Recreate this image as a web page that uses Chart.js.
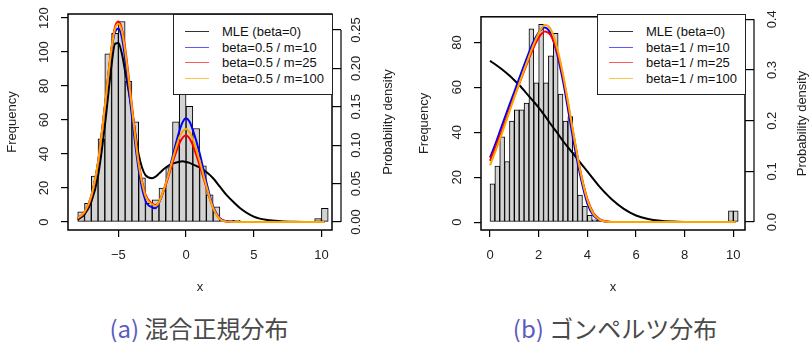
<!DOCTYPE html>
<html><head><meta charset="utf-8">
<script src="https://cdn.jsdelivr.net/npm/chart.js@4.4.1/dist/chart.umd.min.js"></script>
<style>
html,body{margin:0;padding:0;background:#fff;}
#wrap{position:relative;width:810px;height:342px;overflow:hidden;background:#fff;font-family:'Liberation Sans',Arial,sans-serif;}
.pane{position:absolute;top:0;width:405px;height:300px;}
.legend{position:absolute;border:1px solid #222;background:#fff;box-sizing:border-box;font-size:13px;color:#111;}
.legend .row{position:absolute;left:0;height:16px;line-height:16px;white-space:nowrap;}
.legend .sw{position:absolute;top:7px;height:0;border-top:1.5px solid;}
.legend .tx{position:absolute;top:0;}
.caption{position:absolute;top:315px;line-height:25px;font-family:'Noto Sans CJK JP',sans-serif;font-weight:400;font-size:24px;color:#4a4a4a;white-space:nowrap;transform:translateX(-50%);}
.caption .lab{color:#5a5abf;}
</style></head>
<body>
<div id="wrap">
  <div class="pane" style="left:0"><canvas id="ca" width="405" height="300"></canvas></div>
  <div class="pane" style="left:405px"><canvas id="cb" width="405" height="300"></canvas></div>
  <div class="legend" id="legA" style="left:173px;top:14px;width:160px;height:81px"></div>
  <div class="legend" id="legB" style="left:597px;top:14px;width:149px;height:81px"></div>
  <div class="caption" style="left:199px"><span class="lab">(a)</span> 混合正規分布</div>
  <div class="caption" style="left:615px"><span class="lab">(b)</span> ゴンペルツ分布</div>
</div>
<script>
// ---------- Panel (a): mixture of normals ----------
const binMidsA = [-7.75,-7.25,-6.75,-6.25,-5.75,-5.25,-4.75,-4.25,-3.75,-3.25,-2.75,-2.25,-1.75,-1.25,-0.75,-0.25,0.25,0.75,1.25,1.75,2.25,2.75,3.25,3.75,9.75,10.25];
const countsA  = [6,11,27,49,99,111,118,83,59,26,11,13,20,32,59,82,68,55,33,16,9,1,1,1,2,8];
const xCurveA  = [-8,-7.5,-7,-6.5,-6,-5.5,-5.25,-5,-4.75,-4.5,-4,-3.5,-3,-2.5,-2.25,-2,-1.5,-1,-0.5,-0.25,0,0.25,0.5,1,1.5,2,2.5,3,3.5,4,5,6,7,8,9,10.2];
const mleA     = [0.003,0.010,0.026,0.060,0.125,0.205,0.232,0.233,0.220,0.196,0.146,0.088,0.061,0.057,0.059,0.063,0.071,0.076,0.0785,0.079,0.078,0.077,0.075,0.071,0.065,0.057,0.046,0.035,0.026,0.018,0.007,0.0026,0.001,0.0003,0.0001,0];
const blueA    = [0.005,0.013,0.034,0.078,0.150,0.225,0.247,0.252,0.241,0.213,0.138,0.068,0.028,0.019,0.018,0.025,0.050,0.085,0.118,0.130,0.135,0.131,0.120,0.090,0.052,0.020,0.005,0.001,0.0002,0,0,0,0,0,0,0];
const redA     = [0.005,0.012,0.032,0.077,0.150,0.228,0.254,0.261,0.252,0.227,0.152,0.078,0.036,0.024,0.022,0.026,0.048,0.077,0.102,0.110,0.113,0.109,0.100,0.074,0.045,0.018,0.004,0.0005,0,0,0,0,0,0,0,0];
const orangeA  = [0.005,0.013,0.034,0.078,0.150,0.227,0.251,0.258,0.249,0.223,0.149,0.076,0.034,0.023,0.021,0.026,0.050,0.081,0.110,0.118,0.121,0.117,0.108,0.080,0.047,0.018,0.004,0.0005,0,0,0,0,0,0,0,0];
const xTicksA  = [-5,0,5,10];
const yTicksA  = [0,20,40,60,80,100,120];
const y2TicksA = [0,0.05,0.10,0.15,0.20,0.25];
const legendA  = ['MLE (beta=0)','beta=0.5 / m=10','beta=0.5 / m=25','beta=0.5 / m=100'];

// ---------- Panel (b): Gompertz ----------
const binMidsB = [0.1,0.3,0.5,0.7,0.9,1.1,1.3,1.5,1.7,1.9,2.1,2.3,2.5,2.7,2.9,3.1,3.3,3.5,3.7,3.9,4.1,4.3,4.5,9.9,10.1];
const countsB  = [17,25,38,27,45,50,50,53,86,62,88,62,74,84,57,45,47,31,12,7,3,1,1,5,5];
const xCurveB  = [0,0.25,0.5,0.75,1,1.25,1.5,1.75,2,2.25,2.5,2.75,3,3.25,3.5,3.75,4,4.25,4.5,4.75,5,5.5,6,6.5,7,7.5,8,9,10.1];
const mleB     = [0.318,0.310,0.301,0.291,0.280,0.268,0.254,0.240,0.226,0.210,0.193,0.177,0.160,0.145,0.130,0.115,0.100,0.085,0.070,0.057,0.045,0.026,0.013,0.006,0.0025,0.001,0.0004,0.0001,0];
const blueB    = [0.127,0.158,0.192,0.225,0.257,0.290,0.322,0.352,0.374,0.384,0.371,0.333,0.278,0.210,0.142,0.083,0.037,0.013,0.004,0.001,0,0,0,0,0,0,0,0,0];
const redB     = [0.121,0.150,0.182,0.215,0.248,0.279,0.310,0.340,0.364,0.376,0.368,0.338,0.288,0.222,0.155,0.093,0.046,0.018,0.006,0.0015,0,0,0,0,0,0,0,0,0];
const orangeB  = [0.112,0.143,0.176,0.211,0.246,0.280,0.313,0.345,0.372,0.389,0.380,0.345,0.292,0.225,0.155,0.092,0.044,0.016,0.005,0.001,0,0,0,0,0,0,0,0,0];
const xTicksB  = [0,2,4,6,8,10];
const yTicksB  = [0,20,40,60,80];
const y2TicksB = [0,0.1,0.2,0.3,0.4];
const legendB  = ['MLE (beta=0)','beta=1 / m=10','beta=1 / m=25','beta=1 / m=100'];

const lineColors = ['#000000','#0000ff','#ff0000','#ffa500'];
const legendSwatch = ['#333333','#5b5bff','#ff5b5b','#ffc04d'];
const FONT = {family:'Liberation Sans', size:13};
const TXT = '#222';

const rFrame = {
  id:'rFrame',
  afterDraw(chart, args, opts){
    const {ctx, chartArea:a, scales} = chart;
    ctx.save();
    ctx.strokeStyle = '#000'; ctx.lineWidth = 1.5;
    ctx.strokeRect(a.left, a.top, a.right-a.left, a.bottom-a.top);
    const y2 = scales.y2, t = y2.ticks;
    const xl = a.right + opts.axisGap;
    ctx.lineWidth = 1.2;
    ctx.beginPath();
    ctx.moveTo(xl, y2.getPixelForValue(t[0].value));
    ctx.lineTo(xl, y2.getPixelForValue(t[t.length-1].value));
    ctx.stroke();
    ctx.translate(a.right + opts.titleGap, (a.top+a.bottom)/2);
    ctx.rotate(-Math.PI/2);
    ctx.font = '13px "Liberation Sans"';
    ctx.fillStyle = TXT; ctx.textAlign='center'; ctx.textBaseline='middle';
    ctx.fillText(opts.title, 0, 0);
    ctx.restore();
  }
};

const minus = v => String(v).replace('-', '\u2212');

function build(id, p){
  const datasets = [{
    type:'bar', label:'hist',
    data: p.mids.map((m,i)=>({x:m, y:p.counts[i]})),
    backgroundColor:'#d3d3d3', borderColor:'#000', borderWidth:1, borderSkipped:false,
    barPercentage:1, categoryPercentage:1, grouped:false,
    xAxisID:'x', yAxisID:'y', order:10
  }];
  p.curves.forEach((c,k)=>{
    datasets.push({
      type:'line', label:p.labels[k],
      data: p.xc.map((x,i)=>({x:x, y:c[i]})),
      borderColor: lineColors[k], borderWidth:2, pointRadius:0, fill:false,
      cubicInterpolationMode:'monotone', xAxisID:'x', yAxisID:'y2', order:5-k
    });
  });
  const gridOpt = tl => ({display:true, drawOnChartArea:false, drawTicks:true, tickLength:tl, color:'#000', lineWidth:1.2, offset:false});
  return new Chart(document.getElementById(id), {
    type:'bar',
    data:{datasets},
    options:{
      responsive:false, animation:false, devicePixelRatio:1,
      layout:{padding:{top:14,left:0,right:0,bottom:0}},
      plugins:{legend:{display:false}, tooltip:{enabled:false},
        rFrame:{axisGap:9, titleGap:p.titleGap, title:'Probability density'}},
      scales:{
        x:{type:'linear', position:'bottom', min:p.xmin, max:p.xmax, offset:false,
          grid:gridOpt(7), border:{display:false},
          ticks:{autoSkip:false, maxRotation:0, minRotation:0, includeBounds:false, padding:11, color:TXT, font:FONT, callback:minus},
          afterBuildTicks:s=>{ s.ticks = p.xt.map(v=>({value:v})); },
          afterFit:s=>{ s.height = 70; },
          title:{display:true, text:'x', color:TXT, font:FONT, padding:{top:0,bottom:5}}
        },
        y:{type:'linear', position:'left', min:p.ymin, max:p.ymax,
          grid:gridOpt(7), border:{display:false},
          ticks:{autoSkip:false, minRotation:90, maxRotation:90, crossAlign:'center', padding:p.ypad, color:TXT, font:FONT},
          afterBuildTicks:s=>{ s.ticks = p.yt.map(v=>({value:v})); },
          afterFit:s=>{ s.width = p.left; },
          title:{display:true, text:'Frequency', color:TXT, font:FONT, padding:{top:p.ytitle,bottom:0}}
        },
        y2:{type:'linear', position:'right', min:p.y2min, max:p.y2max,
          grid:gridOpt(9), border:{display:false},
          ticks:{autoSkip:false, minRotation:90, maxRotation:90, crossAlign:'center', padding:p.y2pad, color:TXT, font:FONT,
            callback:v=>v.toFixed(p.dec)},
          afterBuildTicks:s=>{ s.ticks = p.y2t.map(v=>({value:v})); },
          afterFit:s=>{ s.width = p.rightW; }
        }
      }
    },
    plugins:[rFrame]
  });
}

function legend(elId, labels){
  const el = document.getElementById(elId);
  const tops = [9,25,40,56];
  labels.forEach((t,k)=>{
    const r = document.createElement('div');
    r.className='row'; r.style.top = tops[k]+'px'; r.style.width='100%';
    const sw = document.createElement('div');
    sw.className='sw'; sw.style.left='11px'; sw.style.width='24px'; sw.style.borderTopColor = legendSwatch[k];
    const tx = document.createElement('div');
    tx.className='tx'; tx.style.left='48px'; tx.textContent = t;
    r.appendChild(sw); r.appendChild(tx); el.appendChild(r);
  });
}

build('ca', {mids:binMidsA, counts:countsA, xc:xCurveA, curves:[mleA,blueA,redA,orangeA], labels:legendA,
  xmin:-8.72, xmax:10.78, ymin:-4.7, ymax:122.4, y2min:-0.0104, y2max:0.2708,
  xt:xTicksA, yt:yTicksA, y2t:y2TicksA, dec:2, left:68, rightW:73, ypad:6, y2pad:3, ytitle:5, titleGap:56});
build('cb', {mids:binMidsB, counts:countsB, xc:xCurveB, curves:[mleB,blueB,redB,orangeB], labels:legendB,
  xmin:-0.37, xmax:10.48, ymin:-3.5, ymax:91.4, y2min:-0.0156, y2max:0.405,
  xt:xTicksB, yt:yTicksB, y2t:y2TicksB, dec:1, left:76, rightW:65, ypad:9, y2pad:9, ytitle:12, titleGap:57});
legend('legA', legendA);
legend('legB', legendB);
</script>
</body></html>
